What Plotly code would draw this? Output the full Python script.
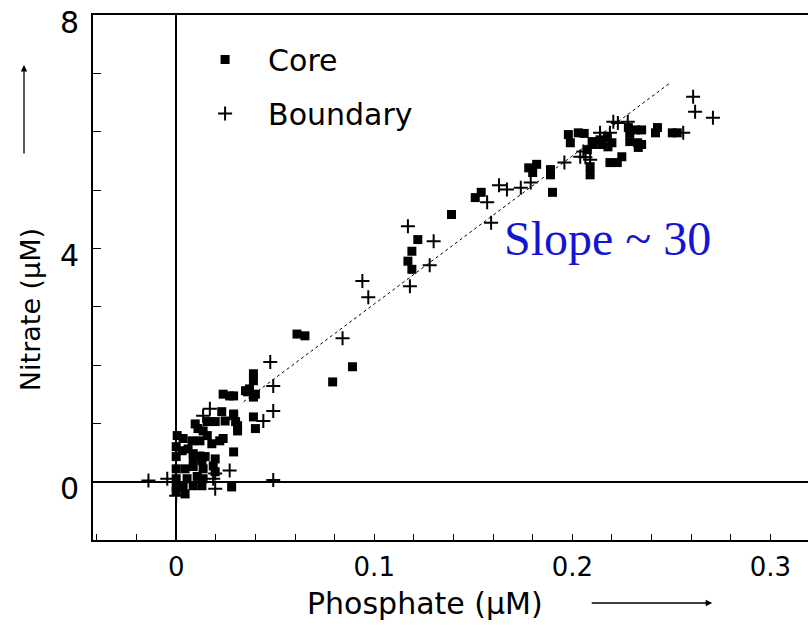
import plotly.graph_objects as go

# Core (squares): phosphate (uM), nitrate (uM)
core_x = [0.0237, 0.027, 0.036, 0.040, 0.039, 0.040, 0.029, 0.023, 0.029, 0.030, 0.0247, 0.031, 0.031,
          0.0197, 0.0096, 0.011, 0.0136, 0.0157, 0.0005, 0.0035, 0.008, 0.012, 0.0157, 0.018, 0.022, 0.0237,
          0.0, 0.003, 0.006, 0.0086, 0.012, 0.0146, 0.0, 0.0086, 0.0197, 0.013,
          0.0, 0.0045, 0.0086, 0.0136, 0.0187, 0.0197, 0.0, 0.0055, 0.0106, 0.0136,
          0.0, 0.0035, 0.0086, 0.013, 0.028, 0.0045, 0.0,
          0.061, 0.065, 0.089, 0.079, 0.039, 0.039, 0.037, 0.035, 0.039, 0.029, 0.029,
          0.119, 0.117, 0.119, 0.122, 0.139, 0.151, 0.154, 0.178, 0.182, 0.180, 0.190, 0.189, 0.189,
          0.198, 0.199, 0.203, 0.206, 0.210, 0.214, 0.2177, 0.2106, 0.215, 0.218, 0.220,
          0.2283, 0.232, 0.235, 0.229, 0.229, 0.233, 0.235, 0.2333, 0.243, 0.242, 0.2505, 0.253,
          0.219, 0.2227, 0.225, 0.209, 0.209, 0.2076]
core_y = [1.50, 1.47, 1.54, 1.50, 1.11, 0.91, 0.51, 1.20, 1.16, 1.03, 1.04, 0.87, 0.96,
          1.03, 0.99, 0.91, 0.87, 1.03, 0.79, 0.74, 0.70, 0.70, 0.79, 0.65, 0.70, 0.74,
          0.60, 0.53, 0.56, 0.48, 0.44, 0.43, 0.43, 0.39, 0.39, 0.36,
          0.22, 0.22, 0.26, 0.22, 0.27, 0.17, 0.05, 0.05, 0.09, 0.05,
          -0.09, -0.09, -0.07, -0.07, -0.09, -0.21, -0.17,
          2.53, 2.50, 1.97, 1.71, 1.85, 1.73, 1.59, 1.56, 1.45, 1.47, 1.13,
          3.95, 3.78, 3.64, 4.15, 4.58, 4.87, 4.96, 5.38, 5.44, 5.30, 4.96, 5.35, 5.26,
          5.95, 5.81, 5.98, 5.97, 5.83, 5.86, 5.90, 5.78, 5.78, 5.74, 5.81,
          6.07, 6.03, 6.03, 5.98, 5.83, 5.81, 5.78, 5.73, 6.07, 5.98, 5.98, 5.98,
          5.47, 5.47, 5.57, 5.40, 5.26, 5.69]

# Boundary (plus signs)
bnd_x = [0.261, 0.262, 0.271, 0.256, 0.2207, 0.223, 0.228, 0.196, 0.204, 0.2066, 0.209, 0.214, 0.219,
         0.2056, 0.179, 0.174, 0.167, 0.163, 0.157, 0.159, 0.130, 0.117, 0.128, 0.118,
         0.094, 0.097, 0.084, 0.0475, 0.049, 0.049, 0.044, 0.017, 0.0136, 0.027, 0.0197,
         0.0197, 0.0187, 0.0, -0.0045, -0.014, 0.049]
bnd_y = [6.60, 6.34, 6.24, 5.98, 6.17, 6.15, 6.17, 5.47, 5.57, 5.56, 5.52, 5.98, 5.98,
         5.66, 5.13, 5.04, 5.01, 5.08, 4.79, 4.44, 4.12, 4.38, 3.71, 3.35,
         3.44, 3.16, 2.46, 2.05, 1.64, 1.21, 1.04, 1.25, 1.13, 0.19, -0.12,
         0.14, 0.05, -0.24, 0.05, 0.02, 0.03]

# Fitted slope line (~30)
fit_x = [0.034, 0.2495]
fit_y = [1.37, 6.84]

x_ticks = [0, 0.1, 0.2, 0.3]
x_labels = ["0", "0.1", "0.2", "0.3"]
y_ticks = [0, 4, 8]
y_labels = ["0", "4", "8"]

FONT = "DejaVu Sans, Liberation Sans, Arial, sans-serif"

fig = go.Figure()
fig.add_trace(go.Scatter(x=fit_x, y=fit_y, mode="lines",
                         line=dict(color="black", width=1, dash="dot"),
                         showlegend=False, hoverinfo="skip"))
fig.add_trace(go.Scatter(x=core_x, y=core_y, mode="markers", name="Core",
                         legendgroup="a",
                         marker=dict(symbol="square", size=9, color="black",
                                     line=dict(width=0))))
fig.add_trace(go.Scatter(x=bnd_x, y=bnd_y, mode="markers", name="Boundary",
                         legendgroup="b",
                         marker=dict(symbol="cross-thin", size=10, color="black",
                                     line=dict(width=2, color="black"))))

fig.update_layout(
    width=808, height=627,
    margin=dict(l=93, r=0, t=15, b=87),
    paper_bgcolor="white", plot_bgcolor="white",
    font=dict(family=FONT, size=28, color="black"),
    legend=dict(x=0.1246, y=0.9647, xanchor="left", yanchor="top",
                font=dict(size=30, family=FONT), bgcolor="rgba(0,0,0,0)",
                tracegroupgap=12, itemwidth=76, traceorder="grouped"),
    xaxis=dict(range=[-0.042, 0.319], tickvals=x_ticks, ticktext=x_labels,
               ticks="inside", ticklen=6, tickwidth=1.2, tickcolor="black",
               minor=dict(ticks="inside", dtick=0.02, tick0=0, ticklen=6,
                          tickwidth=1.2, tickcolor="black"),
               showline=True, linecolor="black", linewidth=2, mirror=True,
               showgrid=False, zeroline=True, zerolinecolor="black",
               zerolinewidth=1.5, ticklabelstandoff=3, automargin=False,
               ticklabeloverflow="allow",
               tickfont=dict(size=26, family=FONT)),
    yaxis=dict(range=[-1, 8], tickvals=y_ticks, ticktext=y_labels,
               ticks="inside", ticklen=8, tickwidth=1.2, tickcolor="black",
               minor=dict(ticks="inside", dtick=1, tick0=0, ticklen=8,
                          tickwidth=1.2, tickcolor="black"),
               showline=True, linecolor="black", linewidth=2,
               showgrid=False, zeroline=True, zerolinecolor="black",
               zerolinewidth=1.5, ticklabelstandoff=6, ticklabelshift=7,
               automargin=False, ticklabeloverflow="allow",
               tickfont=dict(size=30, family=FONT)),
)

# Axis titles with arrows
fig.add_annotation(text="Phosphate (µM)", xref="paper", yref="paper",
                   x=0.464, y=-0.12, xanchor="center", yanchor="middle",
                   showarrow=False, font=dict(size=30, family=FONT))
fig.add_annotation(text="Nitrate (µM)", xref="paper", yref="paper",
                   x=-0.088, y=0.438, xanchor="center", yanchor="middle",
                   showarrow=False, textangle=-90,
                   font=dict(size=27, family=FONT))
fig.add_annotation(text="", xref="paper", yref="paper", x=0.866, y=-0.12,
                   ax=-122, ay=0, showarrow=True, arrowhead=2, arrowsize=1,
                   arrowwidth=1.3, arrowcolor="black")
fig.add_annotation(text="", xref="paper", yref="paper", x=-0.0965, y=0.905,
                   ax=0, ay=90, showarrow=True, arrowhead=2, arrowsize=1,
                   arrowwidth=1.3, arrowcolor="black")
fig.add_annotation(text="Slope ~ 30", xref="paper", yref="paper",
                   x=0.719, y=0.574, xanchor="center", yanchor="middle",
                   showarrow=False,
                   font=dict(size=48, family="Liberation Serif, Times New Roman, serif",
                             color="#1414d2"))

fig.write_html("out.html", config={"displayModeBar": False},
               post_script="document.body.style.margin='0px';document.body.style.padding='0px';")
